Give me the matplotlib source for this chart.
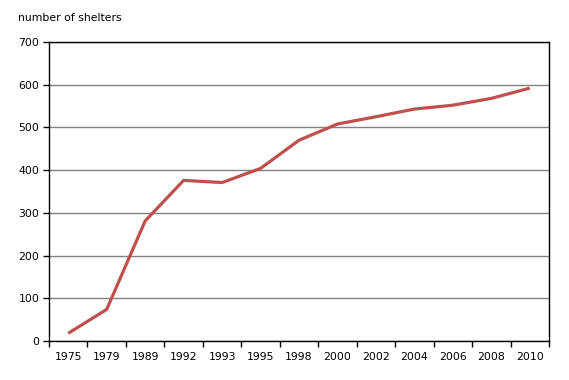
import numpy as np
import matplotlib
matplotlib.use("Agg")
import matplotlib.pyplot as plt
from matplotlib.ticker import FixedLocator

years = ["1975", "1979", "1989", "1992", "1993", "1995", "1998",
         "2000", "2002", "2004", "2006", "2008", "2010"]
shelters = [18, 74, 281, 376, 371, 404, 470, 508, 525, 543, 552, 568, 592]
yticks = [0, 100, 200, 300, 400, 500, 600, 700]

plt.rcParams['font.family'] = ['DejaVu Sans']
plt.rcParams['font.size'] = 7.8

fig = plt.figure(figsize=(5.69, 3.80), dpi=100)
ax = fig.add_axes([49 / 569, 39 / 380, 500 / 569, 299 / 380])

x = np.arange(len(years))
ax.plot(x, shelters, color="#C0504D", linewidth=2.3, solid_joinstyle="round",
        solid_capstyle="butt", zorder=3)

ax.set_xlim(-0.5, len(years) - 0.5)
ax.set_ylim(0, 700)
ax.set_yticks(yticks)
ax.set_yticklabels([str(v) for v in yticks])
ax.grid(axis="y", color="#808080", linewidth=1.0)
ax.set_axisbelow(True)

# category labels at centres, tick marks on boundaries
ax.set_xticks(x)
ax.set_xticklabels(years)
ax.xaxis.set_minor_locator(FixedLocator(np.arange(-0.5, len(years), 1)))
ax.tick_params(axis="x", which="major", length=0, pad=8)
ax.tick_params(axis="x", which="minor", length=4, width=1, direction="out")
ax.tick_params(axis="y", length=4, width=1, direction="out", pad=3)

for s in ax.spines.values():
    s.set_color("black")
    s.set_linewidth(1.0)

fig.text(18 / 569, 1 - 18 / 380, "number of shelters", ha="left", va="center",
         fontsize=7.8)

fig.savefig("out.png", dpi=100)
